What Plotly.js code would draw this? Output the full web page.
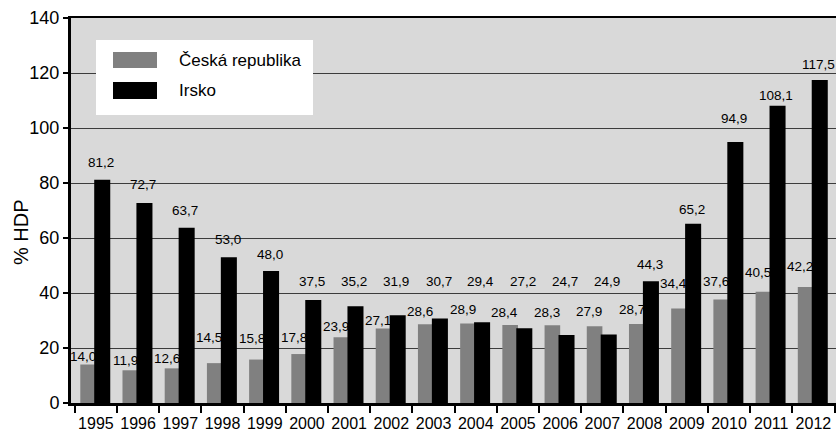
<!DOCTYPE html>
<html>
<head>
<meta charset="utf-8">
<script src="https://cdn.plot.ly/plotly-3.0.1.min.js"></script>
<style>
  html, body { margin: 0; padding: 0; background: #ffffff; }
  #chart { width: 836px; height: 435px; }
</style>
</head>
<body>
<div id="chart"></div>
<script>
// Veřejný dluh v % HDP, 1995–2012
const years = ['1995','1996','1997','1998','1999','2000','2001','2002','2003',
               '2004','2005','2006','2007','2008','2009','2010','2011','2012'];
const ceskaRepublika = [14.0, 11.9, 12.6, 14.5, 15.8, 17.8, 23.9, 27.1, 28.6,
                        28.9, 28.4, 28.3, 27.9, 28.7, 34.4, 37.6, 40.5, 42.2];
const irsko = [81.2, 72.7, 63.7, 53.0, 48.0, 37.5, 35.2, 31.9, 30.7,
               29.4, 27.2, 24.7, 24.9, 44.3, 65.2, 94.9, 108.1, 117.5];
const seriesNames = ['Česká republika', 'Irsko'];
const yTicks = [0, 20, 40, 60, 80, 100, 120, 140];
const yTitle = '% HDP';

// hand-placed value labels: gap in px between bar top and label baseline
const liftCR     = [3, 4, 4, 20, 16, 11, 5, 2, 7, 9, 7, 7, 9, 9, 19, 13, 14, 15];
const liftIrsko  = [12, 13, 12, 12, 11, 13, 19, 28, 32, 35, 41, 48, 48, 11, 9, 18, 5, 10];

const font = '"Liberation Sans", Arial, Helvetica, sans-serif';

// plot area in pixels
const W = 836, H = 435;
const M = { l: 71, r: 0, t: 18, b: 32 };
const pw = W - M.l - M.r, ph = H - M.t - M.b;
const px = x => (x - M.l) / pw;
const py = y => (H - M.b - y) / ph;

// bar placement inside each year slot (overlapping pair)
const bars = [
  { name: seriesNames[0], y: ceskaRepublika, lift: liftCR,    color: '#808080', width: 0.37, offset: -0.37, labelAt: -0.31 },
  { name: seriesNames[1], y: irsko,          lift: liftIrsko, color: '#000000', width: 0.38, offset: -0.04, labelAt: 0.12 }
];

const traces = bars.map(s => ({
  type: 'bar',
  name: s.name,
  x: years,
  y: s.y,
  width: s.width,
  offset: s.offset,
  marker: { color: s.color, line: { width: 0 } },
  hoverinfo: 'x+y'
}));

// value labels, drawn above every bar so neighbours never hide them
const fmt = v => v.toFixed(1).replace('.', ',');
const valueLabels = [];
bars.forEach(s => {
  s.y.forEach((v, i) => {
    valueLabels.push({
      xref: 'x', yref: 'y',
      x: i + s.labelAt, y: v,
      xanchor: 'center', yanchor: 'bottom',
      yshift: s.lift[i] - 4,
      text: fmt(v), showarrow: false,
      font: { family: font, size: 13.5, color: '#000' }
    });
  });
});

// custom legend: white box, wide swatches, labels
const legendShapes = [
  { type: 'rect', xref: 'paper', yref: 'paper', layer: 'above',
    x0: px(96), x1: px(313), y0: py(115), y1: py(40),
    fillcolor: '#ffffff', line: { width: 0 } },
  { type: 'rect', xref: 'paper', yref: 'paper', layer: 'above',
    x0: px(113), x1: px(157), y0: py(68), y1: py(52),
    fillcolor: bars[0].color, line: { width: 0 } },
  { type: 'rect', xref: 'paper', yref: 'paper', layer: 'above',
    x0: px(113), x1: px(157), y0: py(99), y1: py(82),
    fillcolor: bars[1].color, line: { width: 0 } }
];
const legendLabels = seriesNames.map((name, i) => ({
  xref: 'paper', yref: 'paper',
  x: px(177), y: py(i === 0 ? 60 : 90.5),
  xanchor: 'left', yanchor: 'middle',
  text: name, showarrow: false,
  font: { family: font, size: 17, color: '#000' }
}));

// vertical axis title
const axisTitle = {
  xref: 'paper', yref: 'paper',
  x: px(21), y: py(232),
  xanchor: 'center', yanchor: 'middle',
  textangle: -90,
  text: yTitle, showarrow: false,
  font: { family: font, size: 20, color: '#000' }
};

const layout = {
  width: W, height: H,
  margin: M,
  paper_bgcolor: '#ffffff',
  plot_bgcolor: '#d9d9d9',
  barmode: 'overlay',
  showlegend: false,
  xaxis: {
    type: 'category',
    range: [-0.59, 17.535],
    showgrid: false,
    showline: true, linecolor: '#000', linewidth: 2.5, mirror: true,
    ticks: 'outside', tickson: 'boundaries', ticklen: 7, tickwidth: 2, tickcolor: '#000',
    tickangle: 0, ticklabelstandoff: 4,
    tickfont: { family: font, size: 16, color: '#000' },
    fixedrange: true
  },
  yaxis: {
    range: [0, 140],
    tickvals: yTicks,
    showgrid: true, gridcolor: '#3c3c3c', gridwidth: 1,
    zeroline: false,
    showline: true, linecolor: '#000', linewidth: 3,
    ticks: 'outside', ticklen: 5, tickwidth: 1.5, tickcolor: '#000',
    tickfont: { family: font, size: 18, color: '#000' },
    fixedrange: true
  },
  shapes: legendShapes,
  annotations: valueLabels.concat(legendLabels, [axisTitle])
};

Plotly.newPlot('chart', traces, layout, { displayModeBar: false, staticPlot: true });
</script>
</body>
</html>
